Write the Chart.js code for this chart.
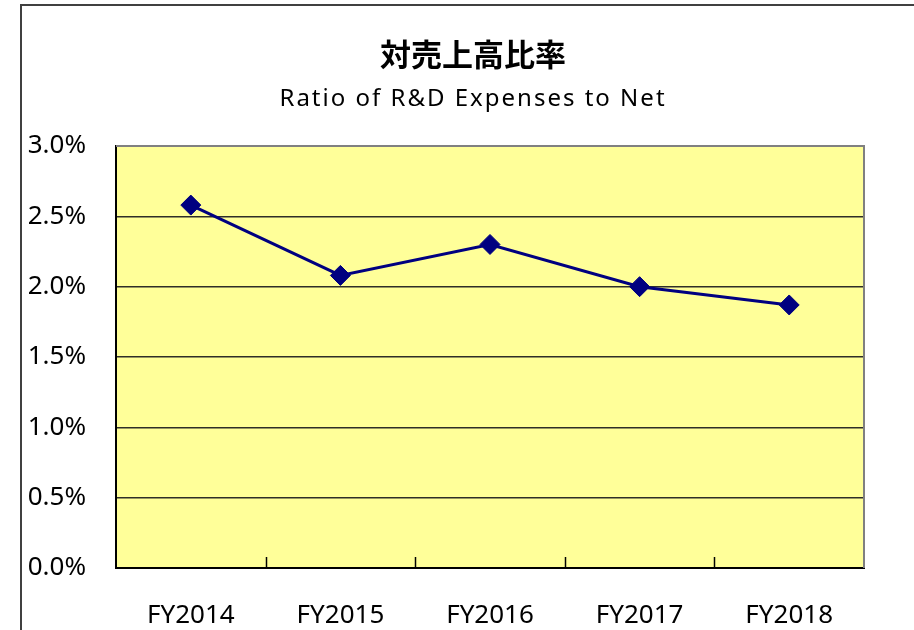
<!DOCTYPE html>
<html>
<head>
<meta charset="utf-8">
<script src="https://cdn.jsdelivr.net/npm/chart.js@4"></script>
<style>
    html, body { margin: 0; padding: 0; background: #fff; overflow: hidden; }
    #frame {
        position: absolute; left: 20px; top: 4px;
        width: 902px; height: 640px;
        border: 2px solid #404040;
    }
</style>
</head>
<body>
<div id="frame"><canvas id="ratioChart" width="902" height="640"></canvas></div>
<script>
// --- data ---
const categories = ["FY2014", "FY2015", "FY2016", "FY2017", "FY2018"];
const ratioValues = [2.58, 2.08, 2.30, 2.00, 1.87];   // percent
const titleText = "対売上高比率";
const subtitleText = "Ratio of R&D Expenses to Net";

// yellow plot area, gray top/right border, inward x ticks, titles
const plotDecor = {
    id: 'plotDecor',
    beforeDraw(chart) {
        const { ctx, chartArea: a } = chart;
        ctx.save();
        ctx.fillStyle = '#FFFF99';
        ctx.fillRect(a.left, a.top, a.right - a.left, a.bottom - a.top);
        ctx.restore();
    },
    afterDraw(chart) {
        const { ctx, chartArea: a } = chart;
        const xs = chart.scales.x;
        ctx.save();
        ctx.strokeStyle = '#808080';
        ctx.lineWidth = 2;
        ctx.beginPath();
        ctx.moveTo(a.left, a.top);
        ctx.lineTo(a.right, a.top);
        ctx.lineTo(a.right, a.bottom);
        ctx.stroke();

        ctx.strokeStyle = '#000';
        ctx.lineWidth = 1.5;
        for (let i = 1; i < categories.length; i++) {
            const x = Math.round((xs.getPixelForValue(i - 1) + xs.getPixelForValue(i)) / 2) + 0.5;
            ctx.beginPath();
            ctx.moveTo(x, a.bottom);
            ctx.lineTo(x, a.bottom - 11);
            ctx.stroke();
        }

        const cx = chart.width / 2;
        ctx.fillStyle = '#000';
        ctx.textAlign = 'center';
        ctx.textBaseline = 'alphabetic';
        ctx.font = 'bold 31px "Noto Sans CJK JP"';
        ctx.fillText(titleText, cx, 60);
        ctx.font = '24px "Noto Sans"';
        if ('letterSpacing' in ctx) ctx.letterSpacing = '2px';
        ctx.fillText(subtitleText, cx, 100);
        ctx.restore();
    }
};

new Chart(document.getElementById('ratioChart'), {
    type: 'line',
    data: {
        labels: categories,
        datasets: [{
            data: ratioValues,
            borderColor: '#000080',
            backgroundColor: '#000080',
            borderWidth: 3,
            pointStyle: 'rectRot',
            pointRadius: 10,
            pointBorderWidth: 1,
            pointBackgroundColor: '#000080',
            pointBorderColor: '#000080',
            tension: 0
        }]
    },
    options: {
        responsive: false,
        animation: false,
        layout: { padding: { top: 140, right: 60, bottom: 16, left: 0 } },
        plugins: {
            legend: { display: false },
            title: { display: false },
            tooltip: { enabled: false }
        },
        scales: {
            x: {
                offset: true,
                grid: { display: false },
                border: { color: '#000', width: 2 },
                ticks: {
                    color: '#000',
                    font: { family: '"Noto Sans"', size: 26 },
                    padding: 24,
                    maxRotation: 0
                },
                afterFit: (scale) => { scale.height = 62; }
            },
            y: {
                min: 0,
                max: 3,
                grid: {
                    drawTicks: false,
                    color: (c) => c.tick && c.tick.value === 3 ? '#808080' : '#2e2e28',
                    lineWidth: 1.5
                },
                border: { color: '#000', width: 2 },
                ticks: {
                    stepSize: 0.5,
                    color: '#000',
                    font: { family: '"Noto Sans"', size: 26 },
                    padding: 30,
                    callback: (v) => v.toFixed(1) + '%'
                },
                afterFit: (scale) => { scale.width = 94; }
            }
        }
    },
    plugins: [plotDecor]
});
</script>
</body>
</html>
